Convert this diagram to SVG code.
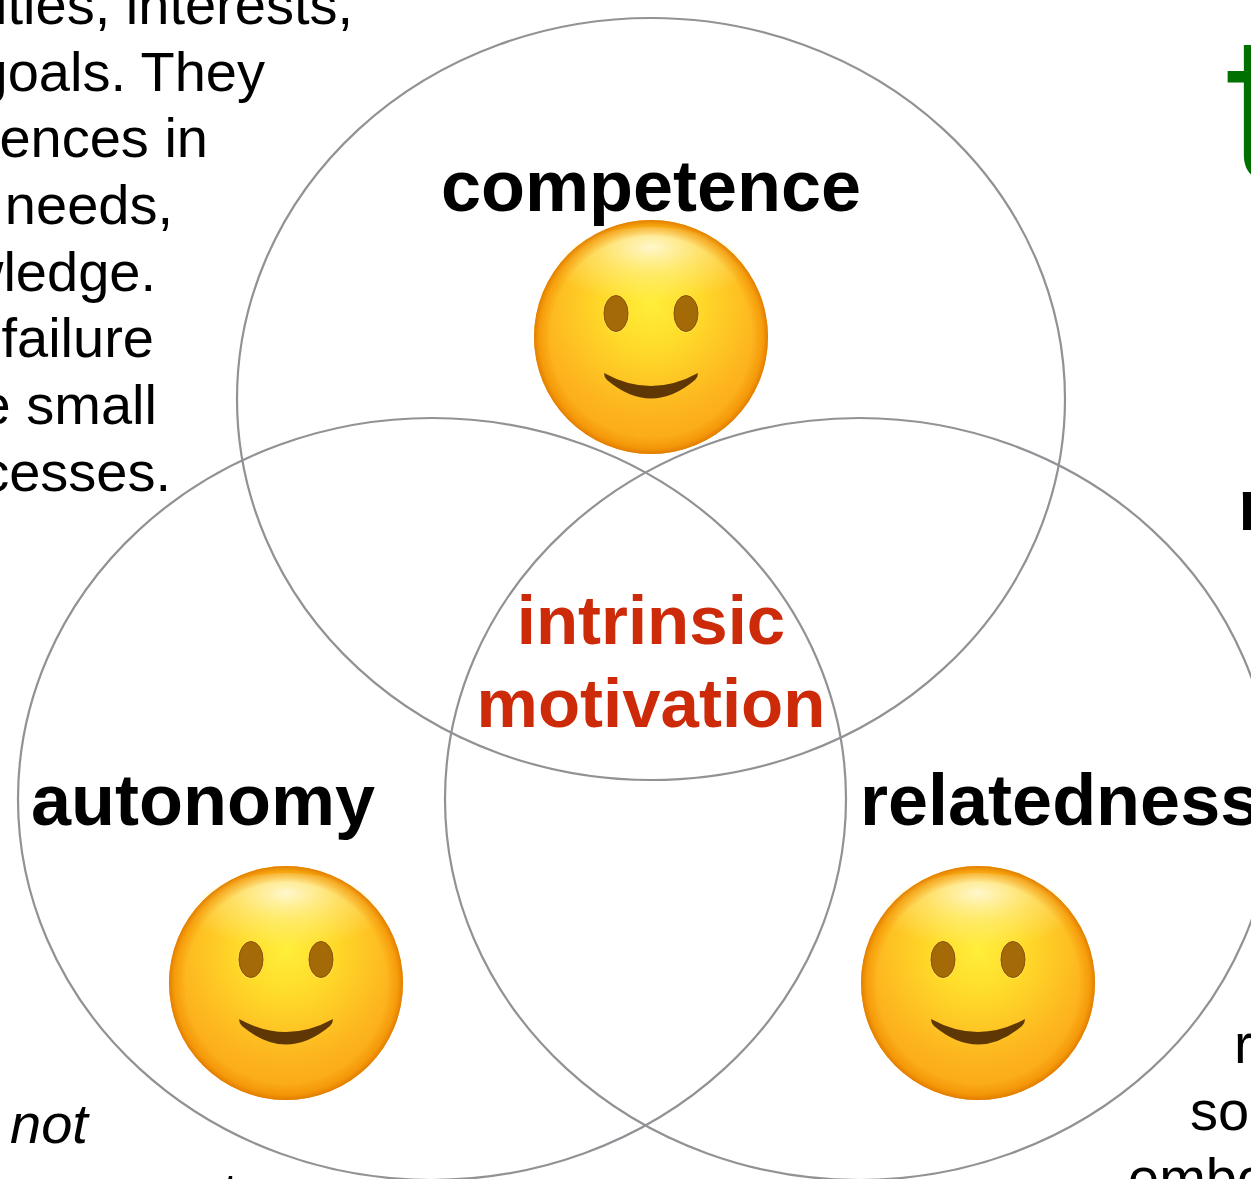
<svg xmlns="http://www.w3.org/2000/svg" width="1251" height="1179" viewBox="0 0 1251 1179">
<style>
text{font-family:"Liberation Sans",Arial,sans-serif}
.b{font-size:56px;fill:#000}
.l{font-size:72px;font-weight:700;fill:#000}
.m{font-size:69px;font-weight:700;fill:#cc2a08;text-anchor:middle}
.c{fill:none;stroke:#929296;stroke-width:2.2}
</style>
<defs>
<radialGradient id="face" cx="0.5" cy="0.36" r="0.66">
<stop offset="0" stop-color="#ffee3a"/>
<stop offset="0.28" stop-color="#ffdc2a"/>
<stop offset="0.7" stop-color="#fdb51f"/>
<stop offset="0.9" stop-color="#faa918"/>
<stop offset="1" stop-color="#ee9410"/>
</radialGradient>
<radialGradient id="shine" cx="0.5" cy="0.22" r="0.6">
<stop offset="0" stop-color="#fffbe0" stop-opacity="0.9"/>
<stop offset="0.5" stop-color="#fff6a8" stop-opacity="0.45"/>
<stop offset="1" stop-color="#fff6a0" stop-opacity="0"/>
</radialGradient>
<radialGradient id="rim" cx="0.5" cy="0.5" r="0.5">
<stop offset="0.86" stop-color="#f08c00" stop-opacity="0"/>
<stop offset="0.95" stop-color="#f29000" stop-opacity="0.6"/>
<stop offset="1" stop-color="#e07a00" stop-opacity="0.95"/>
</radialGradient>
<g id="smiley">
<circle r="117" fill="url(#face)"/>
<ellipse cy="-64" rx="96" ry="46" fill="url(#shine)"/>
<circle r="117" fill="url(#rim)"/>
<ellipse cx="-35" cy="-23" rx="13" ry="19" fill="#ffe45a" opacity="0.7"/>
<ellipse cx="35" cy="-23" rx="13" ry="19" fill="#ffe45a" opacity="0.7"/>
<ellipse cx="-35" cy="-23.5" rx="12" ry="18" fill="#a56a08" stroke="#8a5204" stroke-width="1"/>
<ellipse cx="35" cy="-23.5" rx="12" ry="18" fill="#a56a08" stroke="#8a5204" stroke-width="1"/>
<path d="M-47 36Q0 62 47 36Q47 40 44 43Q0 80 -44 43Q-47 40 -47 36Z" fill="#5e3704"/>
</g>
</defs>
<rect width="1251" height="1179" fill="#fff"/>
<g id="connectors"></g>
<g id="circle-competence"><ellipse class="c" cx="651" cy="399" rx="414" ry="381"/></g>
<g id="circle-autonomy"><ellipse class="c" cx="432" cy="799" rx="414" ry="381"/></g>
<g id="circle-relatedness"><ellipse class="c" cx="859" cy="799" rx="414" ry="381"/></g>
<g id="left-text">
<text class="b" x="353" y="24" text-anchor="end">ities, interests,</text>
<text class="b" x="265" y="91" text-anchor="end">goals. They</text>
<text class="b" x="208" y="157" text-anchor="end">ences in</text>
<text class="b" x="173" y="224" text-anchor="end">needs,</text>
<text class="b" x="156" y="291" text-anchor="end">wledge.</text>
<text class="b" x="154" y="357" text-anchor="end">failure</text>
<text class="b" x="157" y="424" text-anchor="end">e small</text>
<text class="b" x="171" y="491" text-anchor="end">cesses.</text>
</g>
<g id="competence"><text class="l" x="651" y="211" text-anchor="middle">competence</text><use href="#smiley" x="651" y="337"/></g>
<g id="autonomy"><text class="l" x="203" y="825" text-anchor="middle">autonomy</text><use href="#smiley" x="286" y="983"/></g>
<g id="relatedness"><text class="l" x="860" y="825">relatedness</text><use href="#smiley" x="978" y="983"/></g>
<g id="intrinsic-motivation"><text class="m" x="651" y="644">intrinsic</text><text class="m" x="651" y="727">motivation</text></g>
<g id="fragments">
<text x="1226" y="180" font-size="200" font-weight="300" fill="#007000" style="font-family:Inter,sans-serif">t</text>
<text x="1238" y="530" font-size="72" font-weight="700" fill="#000">r</text>
<text class="b" x="1234" y="1063">r</text>
<text class="b" x="1190" y="1130">soc</text>
<text class="b" x="1128" y="1197">embo</text>
<text class="b" x="10" y="1143" font-style="italic">not</text>
<text class="b" x="223" y="1212">t</text>
</g>
</svg>
